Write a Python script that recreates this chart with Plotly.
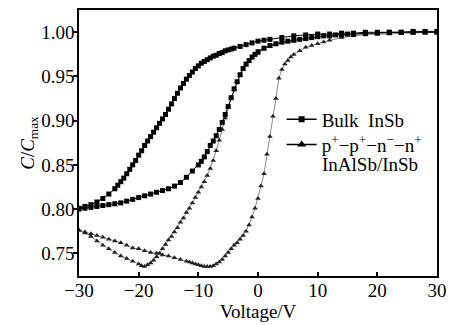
import plotly.graph_objects as go

# ---- Bulk InSb (squares): forward branch (lower) ----
bulk_fwd_v = [-30, -29, -28, -27, -26, -25, -24, -23, -22, -21, -20, -19, -18, -17, -16, -15,
              -14, -13, -12, -11, -10, -9.5, -9, -8.5, -8, -7.5, -7, -6.5, -6, -5.5, -5, -4.5,
              -4, -3.5, -3, -2.5, -2, -1.5, -1, -0.5, 0, 1, 2, 3, 4, 5, 6, 7, 8, 9, 10, 11,
              12, 13, 14, 15, 16, 18, 20, 22, 24, 26, 28, 30]
bulk_fwd_c = [0.800, 0.801, 0.802, 0.803, 0.804, 0.805, 0.806, 0.807, 0.809, 0.811, 0.813,
              0.815, 0.817, 0.819, 0.821, 0.823, 0.826, 0.830, 0.836, 0.843, 0.850, 0.854,
              0.859, 0.865, 0.872, 0.877, 0.883, 0.890, 0.898, 0.907, 0.916, 0.926, 0.936,
              0.944, 0.952, 0.959, 0.964, 0.968, 0.972, 0.975, 0.978, 0.982, 0.985, 0.987,
              0.989, 0.990, 0.991, 0.992, 0.993, 0.994, 0.995, 0.996, 0.996, 0.997, 0.997,
              0.998, 0.998, 0.999, 0.999, 1.000, 1.000, 1.000, 1.000, 1.000]

# ---- Bulk InSb: reverse branch (upper, left-shifted) ----
bulk_rev_v = [30, 28, 26, 24, 22, 20, 18, 16, 14, 12, 10, 8, 6, 4, 2, 1, 0, -1, -2, -3,
              -4, -4.5, -5, -5.5, -6, -6.5, -7, -7.5, -8, -8.5, -9, -9.5, -10, -10.5, -11,
              -11.5, -12, -12.5, -13, -13.5, -14, -14.5, -15, -15.5, -16, -16.5, -17, -17.5,
              -18, -18.5, -19, -19.5, -20, -20.5, -21, -21.5, -22, -22.5, -23, -23.5, -24,
              -25, -26, -27, -28, -29, -30]
bulk_rev_c = [1.001, 1.001, 1.001, 1.000, 1.000, 1.000, 1.000, 0.999, 0.999, 0.998, 0.998,
              0.997, 0.996, 0.994, 0.992, 0.991, 0.990, 0.988, 0.986, 0.984,
              0.982, 0.981, 0.980, 0.979, 0.977, 0.976, 0.974, 0.973, 0.971, 0.969, 0.967,
              0.965, 0.962, 0.959, 0.955, 0.951, 0.947, 0.942, 0.937, 0.931, 0.925, 0.919,
              0.913, 0.907, 0.902, 0.897, 0.892, 0.887, 0.882, 0.877, 0.872, 0.866, 0.861,
              0.855, 0.850, 0.845, 0.840, 0.835, 0.831, 0.827, 0.823,
              0.817, 0.812, 0.808, 0.805, 0.803, 0.801]

# ---- p+-p+-n--n+ InAlSb/InSb (triangles): forward branch ----
het_fwd_v = [-30, -29, -28, -27, -26, -25, -24, -23, -22, -21, -20, -19.5, -19, -18.5, -18,
             -17.5, -17, -16.5, -16, -15.5, -15, -14.5, -14, -13.5, -13, -12.5, -12, -11.5,
             -11, -10.5, -10, -9.5, -9, -8.5, -8, -7.5, -7, -6.5, -6, -5.5, -5, -4.5, -4,
             -3.5, -3, -2.5, -2, -1.5, -1, 0, 1, 2, 3, 4, 5, 6, 8, 10, 12, 14, 16, 18, 20,
             22, 24, 26, 28, 30]
het_fwd_c = [0.776, 0.773, 0.769, 0.764, 0.759, 0.755, 0.751, 0.747, 0.744, 0.741, 0.738,
             0.736, 0.735, 0.737, 0.739, 0.742, 0.746, 0.750, 0.755, 0.760, 0.765, 0.769,
             0.774, 0.779, 0.785, 0.790, 0.796, 0.801, 0.807, 0.813, 0.819, 0.825, 0.831,
             0.838, 0.846, 0.855, 0.866, 0.878, 0.890, 0.903, 0.915, 0.926, 0.935, 0.944,
             0.951, 0.958, 0.963, 0.967, 0.971, 0.976, 0.981, 0.984, 0.986, 0.988, 0.989,
             0.990, 0.992, 0.994, 0.995, 0.996, 0.997, 0.998, 0.999, 0.999, 1.000, 1.000,
             1.000, 1.000]

# ---- p+-p+-n--n+ InAlSb/InSb: reverse branch ----
het_rev_v = [30, 28, 26, 24, 22, 20, 18, 16, 14, 12, 11, 10, 9, 8, 7, 6, 5.5, 5, 4.5, 4,
             3.5, 3, 2.5, 2, 1.5, 1, 0.5, 0, -0.5, -1, -1.5, -2, -2.5, -3, -3.5, -4, -4.5,
             -5, -5.5, -6, -6.5, -7, -7.5, -8, -8.5, -9, -9.5, -10, -10.5, -11, -11.5, -12,
             -13, -14, -15, -16, -17, -18, -19, -20, -21, -22, -23, -24, -25, -26, -27, -28,
             -29, -30]
het_rev_c = [1.000, 1.000, 0.999, 0.999, 0.998, 0.998, 0.997, 0.996, 0.994, 0.991, 0.989,
             0.987, 0.985, 0.983, 0.979, 0.975, 0.972, 0.968, 0.964, 0.958, 0.948, 0.925,
             0.905, 0.882, 0.862, 0.840, 0.826, 0.812, 0.801, 0.791, 0.782, 0.775, 0.770,
             0.766, 0.762, 0.759, 0.755, 0.751, 0.747, 0.743, 0.740, 0.738, 0.736, 0.735,
             0.735, 0.735, 0.736, 0.737, 0.738, 0.739, 0.740, 0.741, 0.743, 0.745, 0.747,
             0.748, 0.750, 0.751, 0.753, 0.755, 0.756, 0.759, 0.762, 0.764, 0.766, 0.768,
             0.770, 0.772, 0.774, 0.776]

x_ticks = [-30, -20, -10, 0, 10, 20, 30]
y_ticks = [0.75, 0.80, 0.85, 0.90, 0.95, 1.00]

name_bulk = "Bulk\u00a0\u00a0InSb"
name_het = "p<sup>+</sup>\u2212p<sup>+</sup>\u2212n<sup>\u2212</sup>\u2212n<sup>+</sup>"
name_het2 = "InAlSb/InSb"

FONT = "Liberation Serif, Times New Roman, serif"

fig = go.Figure()

fig.add_trace(go.Scatter(
    x=het_fwd_v + het_rev_v, y=het_fwd_c + het_rev_c,
    mode="lines+markers", showlegend=False,
    line=dict(color="#8a8a8a", width=1),
    marker=dict(symbol="triangle-up", size=5, color="#222222"),
))
fig.add_trace(go.Scatter(
    x=bulk_fwd_v + bulk_rev_v, y=bulk_fwd_c + bulk_rev_c,
    mode="lines+markers", showlegend=False,
    line=dict(color="black", width=1),
    marker=dict(symbol="square", size=5, color="black"),
))

# legend entries (two separate legends for precise placement)
fig.add_trace(go.Scatter(
    x=[None], y=[None], mode="lines+markers", name=name_bulk, legend="legend",
    line=dict(color="black", width=1.5),
    marker=dict(symbol="square", size=6, color="black"),
))
fig.add_trace(go.Scatter(
    x=[None], y=[None], mode="lines+markers", name=name_het, legend="legend2",
    line=dict(color="black", width=1.5),
    marker=dict(symbol="triangle-up", size=8, color="black"),
))

fig.add_annotation(
    x=0.673, y=0.42, xref="paper", yref="paper", text=name_het2,
    showarrow=False, xanchor="left", yanchor="middle",
    font=dict(family=FONT, size=19, color="black"),
)

legend_common = dict(xanchor="left", yanchor="top", bgcolor="rgba(0,0,0,0)",
                     font=dict(family=FONT, size=19))

fig.update_layout(
    width=451, height=325, autosize=False,
    margin=dict(l=79, r=14, t=10, b=49),
    paper_bgcolor="white", plot_bgcolor="white",
    font=dict(family=FONT, size=19, color="black"),
    showlegend=True,
    legend=dict(x=0.566, y=0.66, **legend_common),
    legend2=dict(x=0.566, y=0.565, **legend_common),
    xaxis=dict(
        range=[-30, 30], tickvals=x_ticks, ticks="inside", ticklen=4, tickwidth=1.5,
        tickcolor="black", showline=True, linecolor="black", linewidth=1.5, mirror=True,
        showgrid=False, zeroline=False, tickfont=dict(size=19), automargin=False,
        ticklabelstandoff=-4,
        title=dict(text="Voltage/V", font=dict(size=19), standoff=2),
    ),
    yaxis=dict(
        range=[0.7243, 1.0252], tickvals=y_ticks, tickformat=".2f", ticks="outside",
        ticklen=4, tickwidth=1.5, tickcolor="black", showline=True, linecolor="black",
        linewidth=1.5, mirror=True, showgrid=False, zeroline=False, automargin=False,
        ticklabelstandoff=-5,
        tickfont=dict(size=19),
        title=dict(text="<i>C</i>/<i>C</i><sub>max</sub>", font=dict(size=19), standoff=0),
    ),
)

fig.write_html("out.html", config={"displayModeBar": False},
               post_script="document.body.style.margin='0px';")
